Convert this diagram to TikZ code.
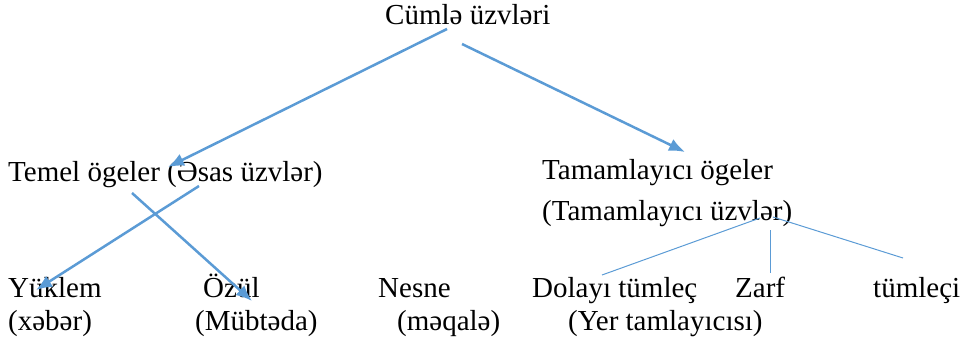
\documentclass[tikz,border=0pt]{standalone}
\usepackage{fontspec}
\setmainfont{Liberation Serif}
\usetikzlibrary{arrows.meta}
\definecolor{linkblue}{HTML}{5B9BD5}
\tikzset{>={Latex[length=16pt,width=13pt]}}
\tikzset{
  word/.style = {anchor=base west, inner sep=0pt, font=\fontsize{29}{34}\selectfont},
  branch/.style = {->, linkblue, line width=2.5pt},
  twig/.style = {linkblue, line width=1pt}
}

\begin{document}
\begin{tikzpicture}[x=1pt,y=-1pt]
  \useasboundingbox (0,0) rectangle (973,345);
  % top
  \node[word] (cumle) at (385,25) {Cümlə üzvləri};
  % middle row
  \node[word] (temel) at (8,181) {Temel ögeler (Əsas üzvlər)};
  \node[word] (tamam) at (542,179) {Tamamlayıcı ögeler};
  \node[word] (tamamaz) at (542,220) {(Tamamlayıcı üzvlər)};
  % bottom row
  \node[word] (yuklem) at (8,297) {Yüklem};
  \node[word] (xeber) at (8,330) {(xəbər)};
  \node[word] (ozul) at (203,297) {Özül};
  \node[word] (mubteda) at (195,330) {(Mübtəda)};
  \node[word] (nesne) at (378,297) {Nesne};
  \node[word] (meqale) at (397,330) {(məqalə)};
  \node[word] (dolayi) at (532,297) {Dolayı tümleç};
  \node[word] (yer) at (568,330) {(Yer tamlayıcısı)};
  \node[word] (zarf) at (735,297) {Zarf};
  \node[word] (tumleci) at (873,297) {tümleçi};
  % arrows
  \draw[branch] ([xshift=62pt,yshift=-4pt]cumle.base west) -- ([xshift=160pt,yshift=14pt]temel.base west);
  \draw[branch] ([xshift=77pt,yshift=-19pt]cumle.base west) -- ([xshift=143pt,yshift=27pt]tamam.base west);
  \draw[branch] ([xshift=191pt,yshift=-5pt]temel.base west) -- ([xshift=28pt,yshift=7pt]yuklem.base west);
  \draw[branch] ([xshift=124pt,yshift=-12pt]temel.base west) -- ([xshift=49pt,yshift=-4pt]ozul.base west);
  % thin lines
  \draw[twig] ([xshift=218pt,yshift=2pt]tamamaz.base west) -- ([xshift=70pt,yshift=22pt]dolayi.base west);
  \draw[twig] ([xshift=228pt,yshift=-10pt]tamamaz.base west) -- ([xshift=35pt,yshift=24pt]zarf.base west);
  \draw[twig] ([xshift=231pt,yshift=3pt]tamamaz.base west) -- ([xshift=30pt,yshift=39pt]tumleci.base west);
\end{tikzpicture}
\end{document}
